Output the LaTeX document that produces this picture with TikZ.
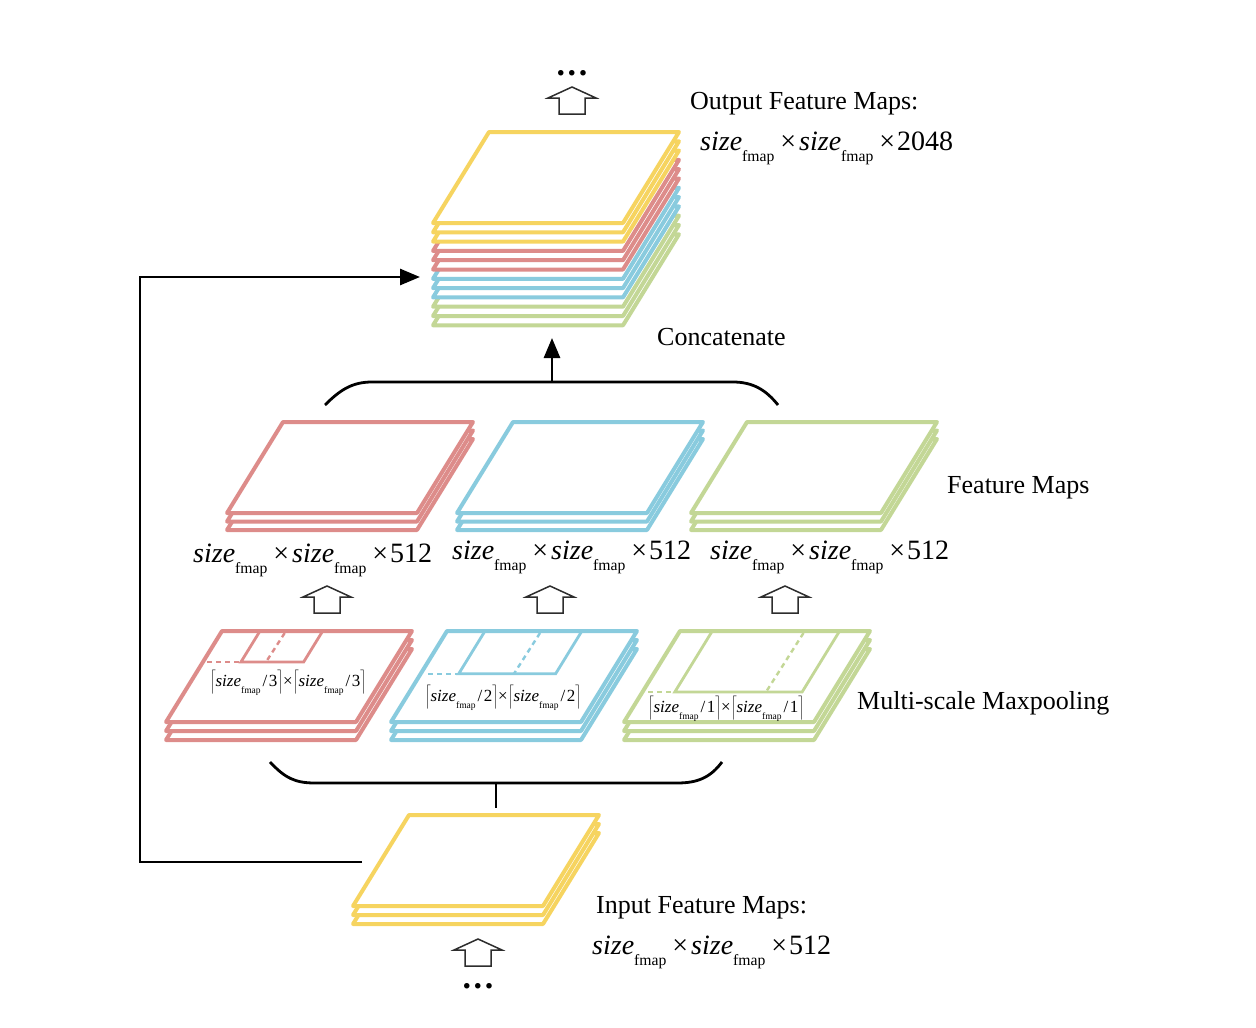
\documentclass[tikz,border=0pt]{standalone}
\usepackage{fontspec}
\setmainfont{Liberation Serif}
\usepackage{graphicx}
\usetikzlibrary{arrows.meta}
\definecolor{cy}{RGB}{246,212,96}
\definecolor{cr}{RGB}{221,140,138}
\definecolor{cb}{RGB}{137,203,222}
\definecolor{cg}{RGB}{195,215,150}
\definecolor{arr}{RGB}{45,45,45}
\newcommand{\sizef}{\textit{size}\raisebox{-0.4em}{\scalebox{0.56}{fmap}}}
\newcommand{\mlabel}[1]{\sizef\kern6pt×\kern3pt\sizef\kern6pt×\kern2pt#1}
\newcommand{\ceilsz}[1]{$\bigg\lceil$\sizef\kern2pt/\kern1.5pt#1$\bigg\rceil$}
\newcommand{\holarrow}[2]{\draw[holl] (#1,#2) -- ++(24,11) -- ++(-11,0) -- ++(0,16) -- ++(-26,0) -- ++(0,-16) -- ++(-11,0) -- cycle;}
\newcommand{\fstack}[5]{\foreach \i in {#4,...,0}{\draw[layer,draw=#1] ({#2},{#3+\i*#5}) -- ++(190,0) -- ++(-56,91) -- ++(-190,0) -- cycle;}}
\begin{document}
\begin{tikzpicture}[x=1pt,y=-1pt,
  layer/.style={line width=4pt, fill=white, line join=round},
  win/.style={line width=2.8pt},
  dsh/.style={line width=2.4pt, dash pattern=on 5pt off 4pt},
  bigtxt/.style={inner sep=0pt, anchor=west, font=\fontsize{26}{30}\selectfont},
  mtxt/.style={inner sep=0pt, anchor=west, font=\fontsize{28}{32}\selectfont},
  ctxt/.style={inner sep=0pt, font=\fontsize{17}{20}\selectfont},
  dots/.style={inner sep=0pt, font=\fontsize{34}{34}\selectfont\bfseries},
  holl/.style={line width=1.5pt, draw=arr, fill=white, line join=miter},
  conn/.style={line width=2.8pt, -{Triangle[length=20pt,width=16pt]}},
  brace/.style={line width=2.8pt}]
\useasboundingbox (0,0) rectangle (1256,1028);

% ---------- output stack (12 layers) ----------
\foreach \i/\c in {11/cg,10/cg,9/cg,8/cb,7/cb,6/cb,5/cr,4/cr,3/cr,2/cy,1/cy,0/cy}{
  \draw[layer,draw=\c] ({489},{132+\i*9.3}) -- ++(190,0) -- ++(-56,91) -- ++(-190,0) -- cycle;}
\coordinate (outstack) at (433,277);

% ---------- feature maps ----------
\fstack{cr}{283}{422}{2}{8.5}
\fstack{cb}{513}{422}{2}{8.5}
\fstack{cg}{747}{422}{2}{8.5}

% ---------- maxpooling maps ----------
\fstack{cr}{222}{631}{2}{9}
\fstack{cb}{447}{631}{2}{9}
\fstack{cg}{680}{631}{2}{9}
% windows
\draw[win,draw=cr] (260,631) -- (241,661.9) -- (303.7,661.9) -- (322.7,631);
\draw[dsh,draw=cr] (207,662) -- (241,662);
\draw[dsh,draw=cr] (284.7,633) -- (266,662);
\draw[win,draw=cb] (485,631) -- (458.7,673.8) -- (555.6,673.8) -- (581.9,631);
\draw[dsh,draw=cb] (428,674) -- (458.7,674);
\draw[dsh,draw=cb] (540,633) -- (513.8,674);
\draw[win,draw=cg] (712.3,631) -- (674.8,692) -- (802.1,692) -- (839.6,631);
\draw[dsh,draw=cg] (648,692) -- (674.8,692);
\draw[dsh,draw=cg] (803.5,633) -- (766,692);
\node[ctxt] (c3) at (288,683) {\ceilsz{3}×\ceilsz{3}};
\node[ctxt] (c2) at (503,698) {\ceilsz{2}×\ceilsz{2}};
\node[ctxt] (c1) at (726,709) {\ceilsz{1}×\ceilsz{1}};

% ---------- input stack ----------
\fstack{cy}{409}{815}{2}{9}
\coordinate (instack) at (362,862);

% ---------- hollow arrows ----------
\holarrow{572}{87}
\holarrow{327}{586}
\holarrow{550}{586}
\holarrow{785}{586}
\holarrow{478}{939}
\node[dots] (dtop) at (572,73) {.\kern2.6pt.\kern2.6pt.};
\node[dots] (dbot) at (478,986) {.\kern2.6pt.\kern2.6pt.};

% ---------- braces ----------
\draw[brace] (325,405) .. controls (340,390) and (352,382) .. (372,382) -- (733,382) .. controls (753,382) and (766,390) .. (778,405);
\coordinate (upbr) at (552,382);
\coordinate (conctip) at (552,338);
\draw[conn] (upbr) -- (conctip);
\draw[brace] (270,762) .. controls (285,778) and (295,783) .. (315,783) -- (677,783) .. controls (697,783) and (710,778) .. (722,762);
\coordinate (lowbr) at (496,783);
\coordinate (lowstem) at (496,808);
\draw[brace] (lowbr) -- (lowstem);

% ---------- feedback ----------
\coordinate (fbtip) at (420,277);
\draw[conn] (instack) -- (140,862) |- (fbtip);

% ---------- labels ----------
\node[bigtxt] (outlbl) at (690,104) {Output Feature Maps:};
\node[mtxt] (outsz) at (700,148) {\mlabel{2048}};
\node[bigtxt] (conc) at (657,337) {Concatenate};
\node[bigtxt] (fmlbl) at (947,488) {Feature Maps};
\node[mtxt] (s1) at (193,560) {\mlabel{512}};
\node[mtxt] (s2) at (452,557) {\mlabel{512}};
\node[mtxt] (s3) at (710,557) {\mlabel{512}};
\node[bigtxt] (mslbl) at (857,703) {Multi-scale Maxpooling};
\node[bigtxt] (inlbl) at (596,908) {Input Feature Maps:};
\node[mtxt] (insz) at (592,952) {\mlabel{512}};
\end{tikzpicture}
\end{document}
